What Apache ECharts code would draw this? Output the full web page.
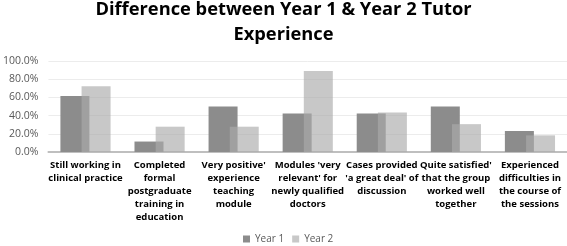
<!DOCTYPE html>
<html>
<head>
<meta charset="utf-8">
<script src="https://cdn.jsdelivr.net/npm/echarts@6/dist/echarts.min.js"></script>
<style>
  html, body { margin: 0; padding: 0; background: #fff; }
  #chart { width: 567px; height: 246px; }
</style>
</head>
<body>
<div id="chart"></div>
<script>
const categories = [
  'Still working in\nclinical practice',
  'Completed\nformal\npostgraduate\ntraining in\neducation',
  "Very positive'\nexperience\nteaching\nmodule",
  "Modules 'very\nrelevant' for\nnewly qualified\ndoctors",
  "Cases provided\n'a great deal' of\ndiscussion",
  "Quite satisfied'\nthat the group\nworked well\ntogether",
  'Experienced\ndifficulties in\nthe course of\nthe sessions'
];
const year1 = [61.5, 11.5, 50.0, 42.3, 42.3, 50.0, 23.1];
const year2 = [72.2, 27.8, 27.8, 88.9, 43.3, 30.6, 18.3];
const yTicks = [0, 20, 40, 60, 80, 100];

const chart = echarts.init(document.getElementById('chart'));
const font = 'Open Sans, DejaVu Sans, sans-serif';

chart.setOption({
  animation: false,
  title: {
    text: 'Difference between Year 1 & Year 2 Tutor\nExperience',
    left: 'center',
    top: -3,
    padding: [0, 0, 0, 6],
    textStyle: { fontFamily: font, fontSize: 18.3, fontWeight: 'bold', color: '#000', lineHeight: 25 }
  },
  legend: {
    top: 234,
    left: 243,
    padding: 0,
    itemWidth: 7,
    itemHeight: 7,
    itemGap: 8,
    icon: 'rect',
    textStyle: { fontFamily: font, fontSize: 10, color: '#595959' },
    data: ['Year 1', 'Year 2']
  },
  grid: { left: 47, right: 0, top: 61, bottom: 94 },
  xAxis: {
    type: 'category',
    data: categories,
    axisTick: { show: false },
    axisLine: { lineStyle: { color: '#bfbfbf', width: 2 } },
    axisLabel: {
      interval: 0,
      fontFamily: font,
      fontSize: 9.5,
      fontWeight: 'bold',
      color: '#000',
      lineHeight: 13,
      margin: 7
    }
  },
  yAxis: {
    type: 'value',
    min: yTicks[0],
    max: yTicks[yTicks.length - 1],
    interval: 20,
    axisLine: { show: false },
    axisTick: { show: false },
    splitLine: { lineStyle: { color: '#ececec' } },
    axisLabel: {
      fontFamily: font,
      fontSize: 10.5,
      color: '#595959',
      margin: 10,
      formatter: v => v.toFixed(1) + '%'
    }
  },
  series: [
    {
      name: 'Year 1',
      type: 'bar',
      data: year1,
      barWidth: 29,
      barGap: '-27%',
      itemStyle: { color: '#8c8c8c' }
    },
    {
      name: 'Year 2',
      type: 'bar',
      data: year2,
      barWidth: 29,
      itemStyle: { color: 'rgba(171,171,171,0.65)' }
    }
  ]
});
</script>
</body>
</html>
